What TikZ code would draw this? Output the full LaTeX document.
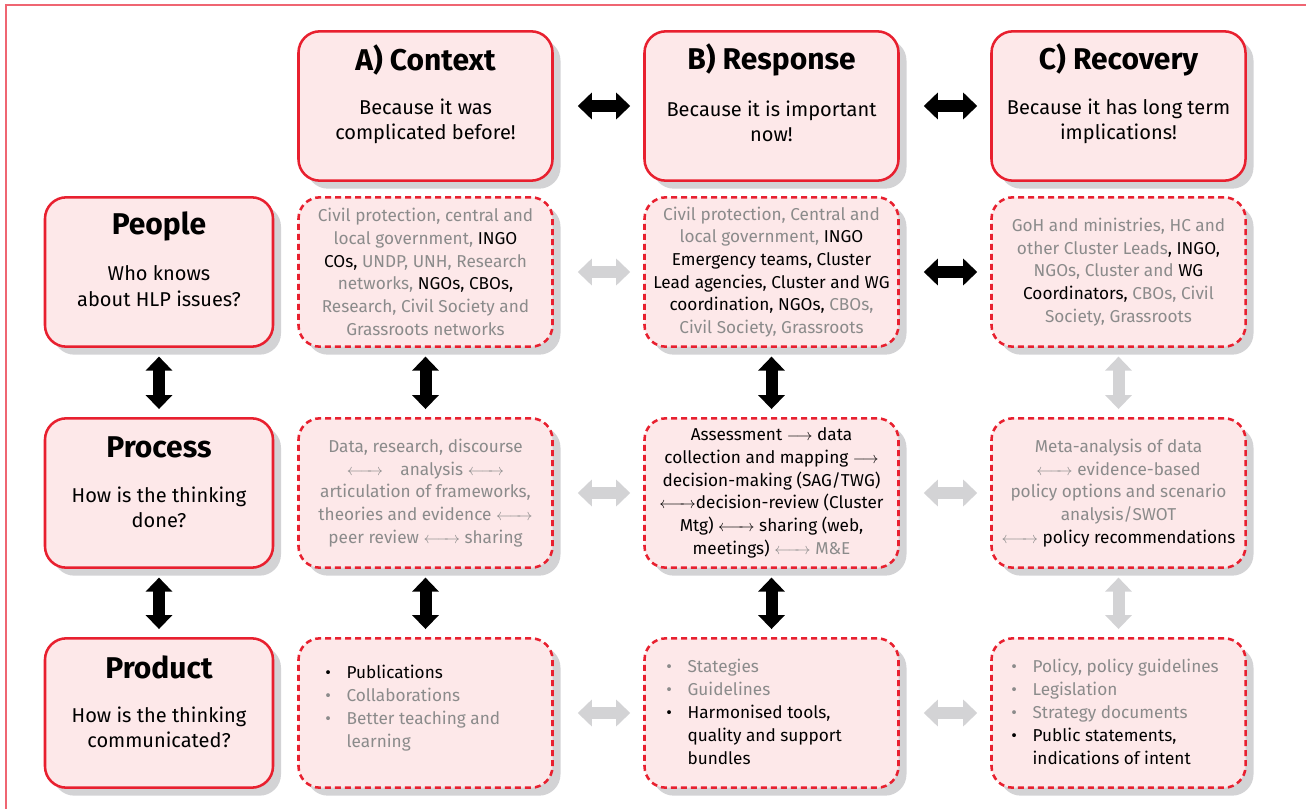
\documentclass[tikz,border=0pt]{standalone}
\usepackage{fontspec}
\setmainfont{Fira Sans}
\usetikzlibrary{arrows.meta,shadows}

\definecolor{hlpred}{HTML}{E8202F}
\definecolor{hlppink}{HTML}{FDE8E9}
\definecolor{hlpgrey}{HTML}{8B8B8B}
\definecolor{hlpshade}{HTML}{D3D3D5}
\definecolor{hlpframe}{HTML}{EF6572}

\newcommand{\mute}[1]{\textcolor{hlpgrey}{#1}}
\newcommand{\bothway}{\ensuremath{\longleftarrow\mkern-6mu\rightarrow}}
\newcommand{\oneway}{\ensuremath{\longrightarrow}}
\newcommand{\itm}[1]{\makebox[16pt][l]{\textbullet}#1}
\newcommand{\itmcont}[1]{\hspace*{16pt}#1}

\tikzset{
  cell/.style={draw=hlpred, line width=1.9pt, fill=hlppink, rounded corners=16pt,
    minimum width=190.5pt, minimum height=112pt, inner sep=2pt,
    drop shadow={shadow xshift=6pt, shadow yshift=-6pt, fill=hlpshade, opacity=1}},
  mainbox/.style={cell},
  sidebox/.style={cell, minimum width=171pt},
  dashbox/.style={cell, dash pattern=on 4.5pt off 3pt},
  heading/.style={font=\fontsize{22.5}{26}\selectfont\bfseries},
  question/.style={align=center, font=\fontsize{15}{19}\selectfont},
  detail/.style={align=center, font=\fontsize{12.9}{17}\selectfont},
  bullets/.style={align=left, anchor=west, inner sep=0pt, font=\fontsize{12.9}{17.2}\selectfont},
  link/.style={line width=9pt, {Triangle[length=10.5pt,width=19.5pt]}-{Triangle[length=10.5pt,width=19.5pt]}}
}

\begin{document}
\begin{tikzpicture}[x=0.75pt, y=-0.75pt]
    \useasboundingbox (0,0) rectangle (1306,809);
    \draw[hlpframe, line width=1.5pt] (1306,5) -- (6,5) -- (6,809);

    % phases
    \foreach \nm/\x/\ttl/\txt in {ctx/425.5/{A) Context}/{Because it was\\complicated before!},
                                 rsp/771.5/{B) Response}/{Because it is important\\now!},
                                 rcv/1118.5/{C) Recovery}/{Because it has long term\\implications!}} {
        \node[mainbox] (\nm) at (\x, 106) {};
        \node[heading] (\nm-title) at (\x, 60) {\ttl};
        \node[question] (\nm-text) at (\x, 121) {\txt};
    }

    % aspects
    \foreach \nm/\y/\ttl/\txt in {ppl/272/People/{Who knows\\about HLP issues?},
                                 prc/493/Process/{How is the thinking\\done?},
                                 prd/713/Product/{How is the thinking\\communicated?}} {
        \node[sidebox] (\nm) at (159, \y) {};
        \node[heading] (\nm-title) at (159, \y-46) {\ttl};
        \node[question] (\nm-text) at (159, \y+14) {\txt};
    }

    % people
    \node[dashbox, detail] (pplA) at (425.5, 272) {\mute{Civil protection, central and}\\ \mute{local government,} INGO\\ COs, \mute{UNDP, UNH, Research}\\ \mute{networks,} NGOs, CBOs,\\ \mute{Research, Civil Society and}\\ \mute{Grassroots networks}};
    \node[dashbox, detail] (pplB) at (771.5, 272) {\mute{Civil protection, Central and}\\ \mute{local government,} INGO\\ Emergency teams, Cluster\\ Lead agencies, Cluster and WG\\ coordination, NGOs, \mute{CBOs,}\\ \mute{Civil Society, Grassroots}};
    \node[dashbox, detail] (pplC) at (1118.5, 272) {\mute{GoH and ministries, HC and}\\ \mute{other Cluster Leads}, INGO,\\ \mute{NGOs, Cluster and} WG\\ Coordinators, \mute{CBOs, Civil}\\ \mute{Society, Grassroots}};

    % process
    \node[dashbox, detail, text=hlpgrey] (prcA) at (425.5, 493) {Data, research, discourse\\ \bothway\quad analysis \bothway\\ articulation of frameworks,\\ theories and evidence \bothway\\ peer review \bothway{} sharing};
    \node[dashbox, detail] (prcB) at (771.5, 493) {Assessment \oneway{} data\\ collection and mapping \oneway\\ decision-making (SAG/TWG)\\ \bothway decision-review (Cluster\\ Mtg) \bothway{} sharing (web,\\ meetings) \mute{\bothway{} M\&E}};
    \node[dashbox, detail, text=hlpgrey] (prcC) at (1118.5, 493) {Meta-analysis of data\\ \bothway{} evidence-based\\ policy options and scenario\\ analysis/SWOT\\ \bothway{} \textcolor{black}{policy recommendations}};

    % product
    \node[dashbox] (prdA) at (425.5, 713) {};
    \node[dashbox] (prdB) at (771.5, 713) {};
    \node[dashbox] (prdC) at (1118.5, 713) {};
    \node[bullets] (prdA-list) at (325, 708) {\itm{Publications}\\ \mute{\itm{Collaborations}}\\ \mute{\itm{Better teaching and}}\\ \mute{\itmcont{learning}}};
    \node[bullets] (prdB-list) at (666, 712) {\mute{\itm{Stategies}}\\ \mute{\itm{Guidelines}}\\ \itm{Harmonised tools,}\\ \itmcont{quality and support}\\ \itmcont{bundles}};
    \node[bullets] (prdC-list) at (1011, 712) {\mute{\itm{Policy, policy guidelines}}\\ \mute{\itm{Legislation}}\\ \mute{\itm{Strategy documents}}\\ \itm{Public statements,}\\ \itmcont{indications of intent}};

    % links
    \foreach \a/\b/\c in {ctx/rsp/black, rsp/rcv/black, pplA/pplB/hlpshade, pplB/pplC/black,
                         prcA/prcB/hlpshade, prcB/prcC/hlpshade, prdA/prdB/hlpshade, prdB/prdC/hlpshade} {
        \draw[link, draw=\c, shorten <=18pt, shorten >=9.75pt] (\a.east) -- (\b.west);
    }
    \foreach \a/\b/\c in {ppl/prc/black, prc/prd/black, pplA/prcA/black, prcA/prdA/black,
                         pplB/prcB/black, prcB/prdB/black, pplC/prcC/hlpshade, prcC/prdC/hlpshade} {
        \draw[link, draw=\c, shorten <=6.5pt, shorten >=6pt] (\a.south) -- (\b.north);
    }
\end{tikzpicture}
\end{document}
